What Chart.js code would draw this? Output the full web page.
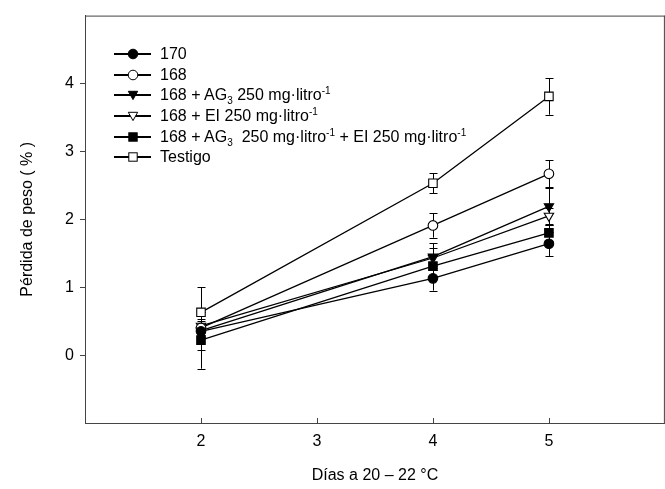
<!DOCTYPE html>
<html>
<head>
<meta charset="utf-8">
<script src="https://cdn.jsdelivr.net/npm/chart.js@4"></script>
<style>
  html, body { margin:0; padding:0; background:#fff; overflow:hidden; }
  .wrap { position:relative; width:672px; height:489px; }
  .legend { position:absolute; left:113px; top:44px; font-family:Arial, "Liberation Sans", sans-serif; font-size:16px; color:#000; }
  .legend .row { display:flex; align-items:center; height:20.6px; white-space:nowrap; }
  .legend svg { width:40px; height:14px; margin-right:7px; flex:none; }
  .legend sub, .legend sup { font-size:10px; line-height:0; }
</style>
</head>
<body>
<div class="wrap">
  <canvas id="chart" width="672" height="489"></canvas>
  <div class="legend" data-legend></div>
</div>
<script>
const days = [2, 4, 5];

const s170 = [0.35, 1.13, 1.64];
const s168 = [0.40, 1.91, 2.67];
const sAG = [0.36, 1.45, 2.19];
const sEI = [0.43, 1.43, 2.05];
const sAGEI = [0.22, 1.31, 1.80];
const sTestigo = [0.63, 2.53, 3.81];

const err170 = [0.28, 0.18, 0.18];
const err168 = [0.10, 0.18, 0.20];
const errAG = [0.10, 0.20, 0.27];
const errEI = [0.10, 0.15, 0.12];
const errAGEI = [0.42, 0.15, 0.12];
const errTestigo = [0.37, 0.15, 0.27];

const labelsHtml = [
  '170',
  '168',
  '168 + AG<sub>3</sub> 250 mg·litro<sup>-1</sup>',
  '168 + EI 250 mg·litro<sup>-1</sup>',
  '168 + AG<sub>3</sub>&nbsp; 250 mg·litro<sup>-1</sup> + EI 250 mg·litro<sup>-1</sup>',
  'Testigo'
];

const xTicks = [2, 3, 4, 5];
const yTicks = [0, 1, 2, 3, 4];

function pts(vals){ return vals.map((v,i) => ({ x: days[i], y: v })); }

function mkSet(label, vals, errs, style, filled){
  return {
    label, data: pts(vals), errors: errs,
    borderColor:'#000', borderWidth:1.3,
    pointStyle: style.shape, rotation: style.rot || 0,
    pointRadius: style.r, pointBorderWidth:1.1,
    pointBackgroundColor: filled ? '#000' : '#fff',
    pointBorderColor:'#000', tension:0
  };
}

const datasets = [
  mkSet('170', s170, err170, { shape:'circle', r:4.8 }, true),
  mkSet('168', s168, err168, { shape:'circle', r:4.8 }, false),
  mkSet('168 + AG3 250 mg·litro-1', sAG, errAG, { shape:'triangle', r:5.4, rot:180 }, true),
  mkSet('168 + EI 250 mg·litro-1', sEI, errEI, { shape:'triangle', r:5.4, rot:180 }, false),
  mkSet('168 + AG3 250 mg·litro-1 + EI 250 mg·litro-1', sAGEI, errAGEI, { shape:'rect', r:6 }, true),
  mkSet('Testigo', sTestigo, errTestigo, { shape:'rect', r:6 }, false)
];

// error bars, drawn under the markers
const errorBars = {
  id:'errorBars',
  beforeDatasetsDraw(chart){
    const { ctx, scales:{ x, y } } = chart;
    ctx.save();
    ctx.strokeStyle = '#000';
    ctx.lineWidth = 1;
    chart.data.datasets.forEach(ds => {
      ds.data.forEach((p,i) => {
        const e = ds.errors[i];
        const px = Math.round(x.getPixelForValue(p.x)) + 0.5;
        const top = y.getPixelForValue(p.y + e);
        const bot = y.getPixelForValue(p.y - e);
        ctx.beginPath();
        ctx.moveTo(px, top); ctx.lineTo(px, bot);
        ctx.moveTo(px - 4, Math.round(top) + 0.5); ctx.lineTo(px + 4, Math.round(top) + 0.5);
        ctx.moveTo(px - 4, Math.round(bot) + 0.5); ctx.lineTo(px + 4, Math.round(bot) + 0.5);
        ctx.stroke();
      });
    });
    ctx.restore();
  }
};

// frame on top/right and inward x ticks
const frame = {
  id:'frame',
  afterDraw(chart){
    const { ctx, chartArea:a, scales:{ x } } = chart;
    ctx.save();
    ctx.strokeStyle = '#444';
    ctx.lineWidth = 1;
    ctx.beginPath();
    ctx.moveTo(a.left, a.top + 0.5); ctx.lineTo(a.right, a.top + 0.5);
    ctx.moveTo(a.right - 0.5, a.top); ctx.lineTo(a.right - 0.5, a.bottom);
    xTicks.forEach(v => {
      const px = Math.round(x.getPixelForValue(v)) + 0.5;
      ctx.moveTo(px, a.bottom); ctx.lineTo(px, a.bottom - 5);
    });
    ctx.stroke();
    ctx.restore();
  }
};

function mountLegend(){
  const el = document.querySelector('[data-legend]');
  const shapes = [
    '<circle cx="20" cy="7" r="4.8" fill="#000" stroke="#000"/>',
    '<circle cx="20" cy="7" r="4.8" fill="#fff" stroke="#000"/>',
    '<polygon points="15.3,3.3 24.7,3.3 20,11.6" fill="#000" stroke="#000"/>',
    '<polygon points="15.3,3.3 24.7,3.3 20,11.6" fill="#fff" stroke="#000"/>',
    '<rect x="15.8" y="2.8" width="8.4" height="8.4" fill="#000" stroke="#000"/>',
    '<rect x="15.8" y="2.8" width="8.4" height="8.4" fill="#fff" stroke="#000"/>'
  ];
  el.innerHTML = labelsHtml.map((t,i) => (
    `<div class="row"><svg viewBox="0 0 40 14"><line x1="1" y1="7" x2="38" y2="7" stroke="#000" stroke-width="1.8"/>${shapes[i]}</svg><span>${t}</span></div>`
  )).join('');
}

const font = { family:'Arial, "Liberation Sans", sans-serif', size:16 };

new Chart(document.getElementById('chart'), {
  type:'line',
  data:{ datasets },
  options:{
    responsive:false,
    animation:false,
    layout:{ padding:{ left:0, top:13, right:2, bottom:0 } },
    plugins:{ legend:{ display:false }, tooltip:{ enabled:false } },
    scales:{
      x:{
        type:'linear', min:1, max:6,
        afterFit: s => { s.height = 66; },
        afterBuildTicks: s => { s.ticks = xTicks.map(v => ({ value:v })); },
        grid:{ drawOnChartArea:false, drawTicks:false },
        border:{ color:'#444', width:1 },
        ticks:{ color:'#000', font, padding:9 },
        title:{ display:true, text:'Días a 20 – 22 °C', color:'#000', font, padding:{ top:4, bottom:4 } }
      },
      y:{
        type:'linear', min:-1, max:5,
        afterFit: s => { s.width = 85; },
        afterBuildTicks: s => { s.ticks = yTicks.map(v => ({ value:v })); },
        grid:{ drawOnChartArea:false, drawTicks:true, tickLength:5, color:'#444' },
        border:{ color:'#444', width:1 },
        ticks:{ color:'#000', font, padding:6 },
        title:{ display:true, text:'Pérdida de peso ( % )', color:'#000', font, padding:{ top:18, bottom:0 } }
      }
    }
  },
  plugins:[errorBars, frame]
});

mountLegend();
</script>
</body>
</html>
